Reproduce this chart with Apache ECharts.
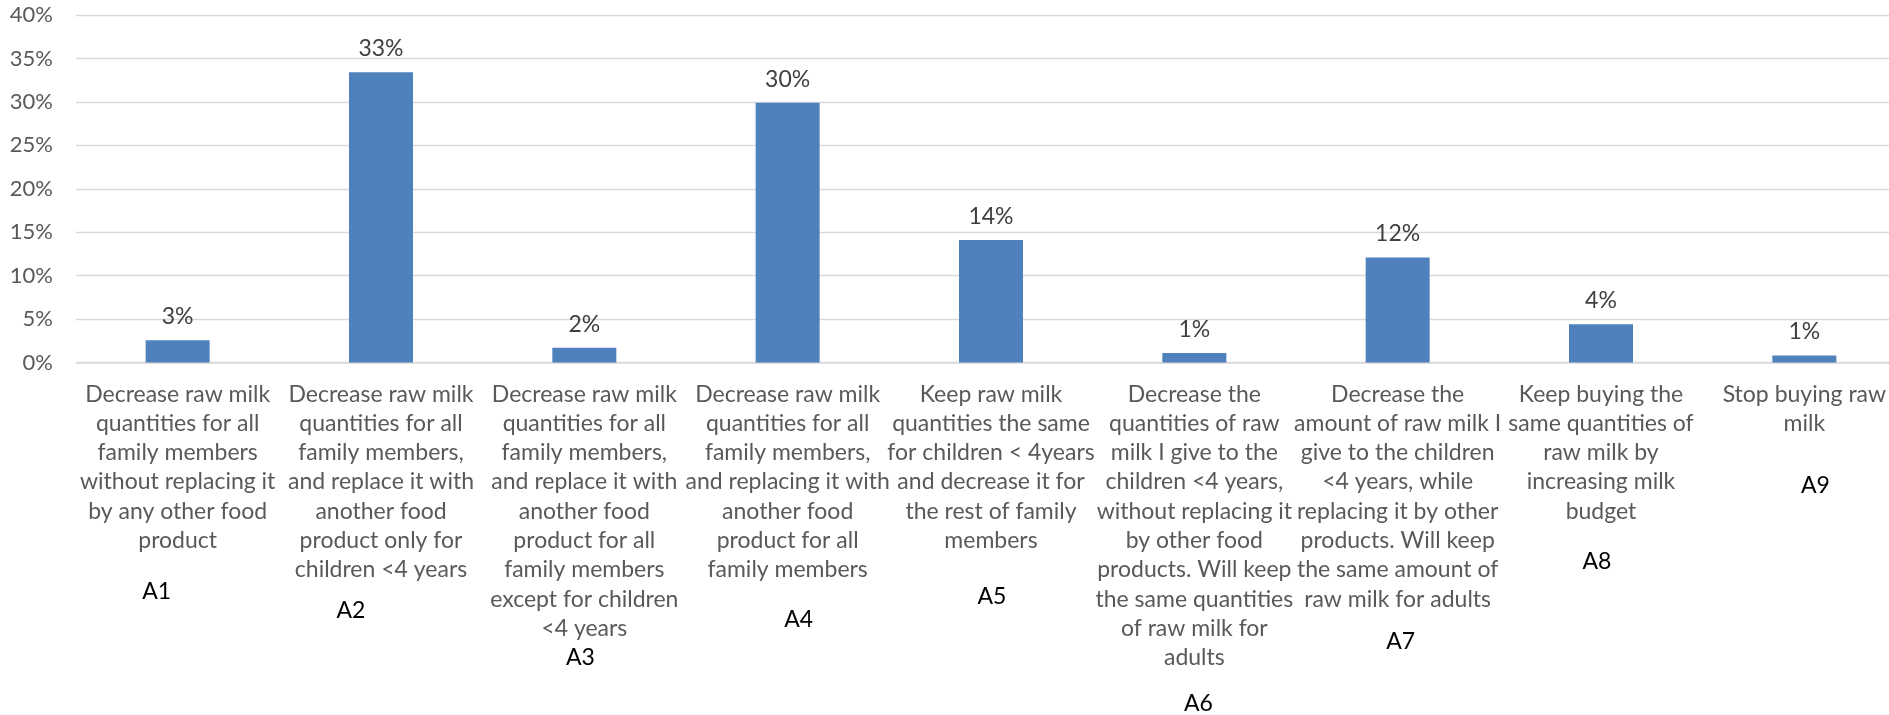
<!DOCTYPE html>
<html><head><meta charset="utf-8">
<script src="https://cdn.jsdelivr.net/npm/echarts@6/dist/echarts.min.js"></script>
<style>html,body{margin:0;padding:0;background:#fff}#c{width:1889px;height:715px}</style>
</head><body><div id="c"></div>
<script>
// ---- data ----
const categoryCodes = ['A1','A2','A3','A4','A5','A6','A7','A8','A9'];
const categoryLines = [
  ['Decrease raw milk','quantities for all','family members','without replacing it','by any other food','product'],
  ['Decrease raw milk','quantities for all','family members,','and replace it with','another food','product only for','children <4 years'],
  ['Decrease raw milk','quantities for all','family members,','and replace it with','another food','product for all','family members','except for children','<4 years'],
  ['Decrease raw milk','quantities for all','family members,','and replacing it with','another food','product for all','family members'],
  ['Keep raw milk','quantities the same','for children < 4years','and decrease it for','the rest of family','members'],
  ['Decrease the','quantities of raw','milk I give to the','children <4 years,','without replacing it','by other food','products. Will keep','the same quantities','of raw milk for','adults'],
  ['Decrease the','amount of raw milk I','give to the children','<4 years, while','replacing it by other','products. Will keep','the same amount of','raw milk for adults'],
  ['Keep buying the','same quantities of','raw milk by','increasing milk','budget'],
  ['Stop buying raw','milk']
];
const values = [2.55, 33.4, 1.7, 29.9, 14.1, 1.1, 12.1, 4.4, 0.8];
const yMin = 0, yMax = 40, yStep = 5;

// ---- layout (annotation placement relative to each category label) ----
const codeLayout = [
  {dx:-21, gap:51}, {dx:-30, gap:41}, {dx:-4, gap:29}, {dx:11, gap:50}, {dx:1, gap:56},
  {dx:4, gap:46}, {dx:3, gap:42}, {dx:-4, gap:50}, {dx:11, gap:62}
];
const LINE_H = 29.3;
const FONT = 'Lato';

const rich = {};
codeLayout.forEach((l, i) => {
  rich['c' + i] = {
    fontFamily: FONT, fontSize: 23, color: '#000000',
    lineHeight: Math.max(2 * (l.gap - LINE_H / 2), 24),
    padding: [0, Math.max(0, -2 * l.dx), 0, Math.max(0, 2 * l.dx)]
  };
});

const chart = echarts.init(document.getElementById('c'), null, {renderer: 'canvas'});
chart.setOption({
  backgroundColor: '#ffffff',
  animation: false,
  grid: {left: 76, top: 15, width: 1830, height: 347.5, containLabel: false, outerBoundsMode: 'none'},
  xAxis: {
    type: 'category',
    data: categoryCodes,
    axisTick: {show: false},
    axisLine: {show: true, lineStyle: {color: '#d9d9d9', width: 1.5}},
    axisLabel: {
      interval: 0, margin: 17, fontFamily: FONT, fontSize: 23, color: '#595959',
      lineHeight: LINE_H, align: 'center', hideOverlap: false,
      formatter: (val, idx) => categoryLines[idx].join('\n') + '\n{c' + idx + '|' + categoryCodes[idx] + '}',
      rich: rich
    }
  },
  yAxis: {
    type: 'value', min: yMin, max: yMax, interval: yStep,
    axisLine: {show: false}, axisTick: {show: false},
    splitLine: {lineStyle: {color: '#d9d9d9', width: 1.3}},
    axisLabel: {margin: 23, fontFamily: FONT, fontSize: 22, color: '#595959', formatter: '{value}%'}
  },
  series: [{
    type: 'bar',
    data: values,
    barWidth: 64,
    itemStyle: {color: '#4f81bd'},
    label: {
      show: true, position: 'top', distance: 12,
      fontFamily: FONT, fontSize: 23, color: '#404040',
      formatter: p => Math.round(p.value) + '%'
    }
  }]
});
</script></body></html>
